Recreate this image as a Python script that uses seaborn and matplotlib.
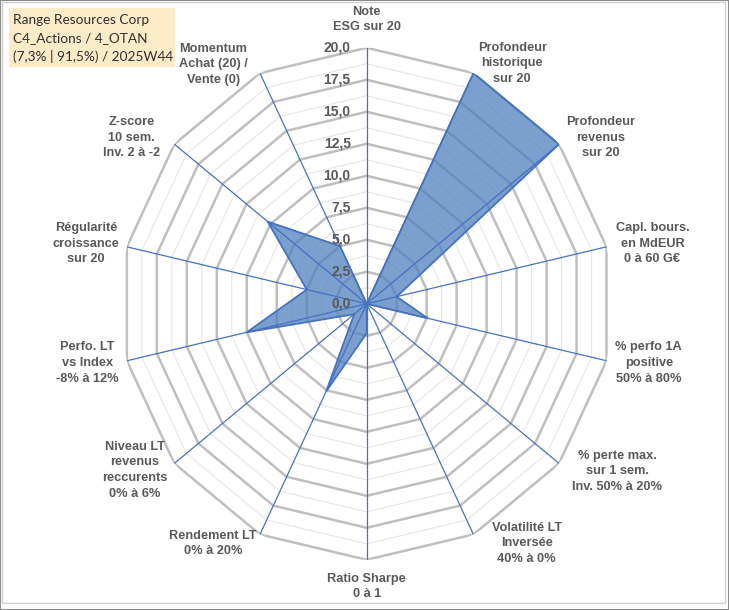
import numpy as np
import matplotlib.pyplot as plt
import seaborn as sns
from matplotlib.patches import Rectangle

# Axis labels (clockwise from top)
categories = [
    "Note\nESG sur 20",
    "Profondeur\nhistorique\nsur 20",
    "Profondeur\nrevenus\nsur 20",
    "Capl. bours.\nen MdEUR\n0 à 60 G€",
    "% perfo 1A\npositive\n50% à 80%",
    "% perte max.\nsur 1 sem.\nInv. 50% à 20%",
    "Volatilité LT\nInversée\n40% à 0%",
    "Ratio Sharpe\n0 à 1",
    "Rendement LT\n0% à 20%",
    "Niveau LT\nrevenus\nreccurents\n0% à 6%",
    "Perfo. LT\nvs Index\n-8% à 12%",
    "Régularité\ncroissance\nsur 20",
    "Z-score\n10 sem.\nInv. 2 à -2",
    "Momentum\nAchat (20) /\nVente (0)",
]
scores = [0, 20, 20, 2.5, 5.1, 0, 0, 2.3, 7.6, 1.3, 10.0, 5.0, 10.3, 5.0]
tick_values = [0, 2.5, 5, 7.5, 10, 12.5, 15, 17.5, 20]
tick_labels = ["0,0", "2,5", "5,0", "7,5", "10,0", "12,5", "15,0", "17,5", "20,0"]
title_lines = ["Range Resources Corp", "C4_Actions / 4_OTAN", "(7,3% | 91,5%) / 2025W44"]

# label placement (angle in degrees, radius in data units)
label_pos = [(0, 22.2), (32.2, 22.2), (55.7, 23.0), (78.6, 23.7), (101.4, 23.4),
             (122.7, 24.2), (145.2, 22.8), (180, 22.1), (213.7, 22.5), (235.4, 22.9),
             (258.5, 23.2), (281.6, 23.3), (304.2, 23.1), (326.3, 22.5)]

sns.set_theme(style="white")
plt.rcParams["font.family"] = ["Liberation Sans", "DejaVu Sans"]

gray_txt = "#595959"
blue = "#4472C4"

n = len(categories)
theta = np.deg2rad(np.arange(n) * 360 / n)
theta_closed = np.append(theta, theta[0])

fig = plt.figure(figsize=(7.29, 6.10), dpi=100)
ax = fig.add_axes([120.7 / 729, 50.2 / 610, 492 / 729, 512 / 610], projection="polar")
ax.set_aspect("auto")
ax.set_theta_zero_location("N")
ax.set_theta_direction(-1)
ax.grid(False)
ax.set_xticks([])
ax.set_yticks([])
ax.spines["polar"].set_visible(False)
ax.patch.set_alpha(0)

# polygon gridlines
for r in np.arange(1.25, 20.01, 1.25):
    major = abs(r / 2.5 - round(r / 2.5)) < 1e-6
    ax.plot(theta_closed, [r] * (n + 1),
            color="#BFBFBF" if major else "#E6E6E6",
            lw=1.8 if major else 0.8, zorder=1)

# data area
closed = scores + scores[:1]
ax.fill(theta_closed, closed, color="#4F81BD", alpha=0.75, lw=0, zorder=2)
sns.lineplot(x=theta_closed, y=closed, sort=False, estimator=None, ax=ax,
             color=blue, lw=1.3, zorder=4)

# spokes
for t in theta:
    ax.plot([t, t], [0, 20], color=blue, lw=0.9, zorder=3)

ax.set_ylim(0, 20)
ax.set_xlabel("")
ax.set_ylabel("")

# radial tick labels along the top spoke
for v, lab in zip(tick_values, tick_labels):
    ax.annotate(lab, xy=(0, v), xytext=(-11.5, 0), textcoords="offset points",
                ha="right", va="center", fontsize=10, fontweight="bold",
                color=gray_txt, zorder=5)

# category labels
for lab, (a, r) in zip(categories, label_pos):
    ax.text(np.deg2rad(a), r, lab, ha="center", va="center", fontsize=9.2,
            fontweight="bold", color=gray_txt, linespacing=1.4)

# title box
fig.patches.append(Rectangle((9 / 729, 1 - 67 / 610), 166 / 729, 59 / 610,
                             transform=fig.transFigure, facecolor="#FDEBC8",
                             edgecolor="none", zorder=0))
fig.text(13 / 729, 1 - 38.5 / 610, "\n".join(title_lines), ha="left", va="center",
         fontsize=9.8, family=["Lato", "DejaVu Sans"], color="#303030",
         linespacing=1.55)

# frame
fig.patches.append(Rectangle((2 / 729, 1 - 603 / 610), 723 / 729, 601 / 610,
                             transform=fig.transFigure, facecolor="none",
                             edgecolor="#D0D0D0", lw=1))
fig.patches.append(Rectangle((0, 0), 1, 1, transform=fig.transFigure,
                             facecolor="none", edgecolor="#8C8C8C", lw=1.5))

fig.savefig("out.png", dpi=100)
